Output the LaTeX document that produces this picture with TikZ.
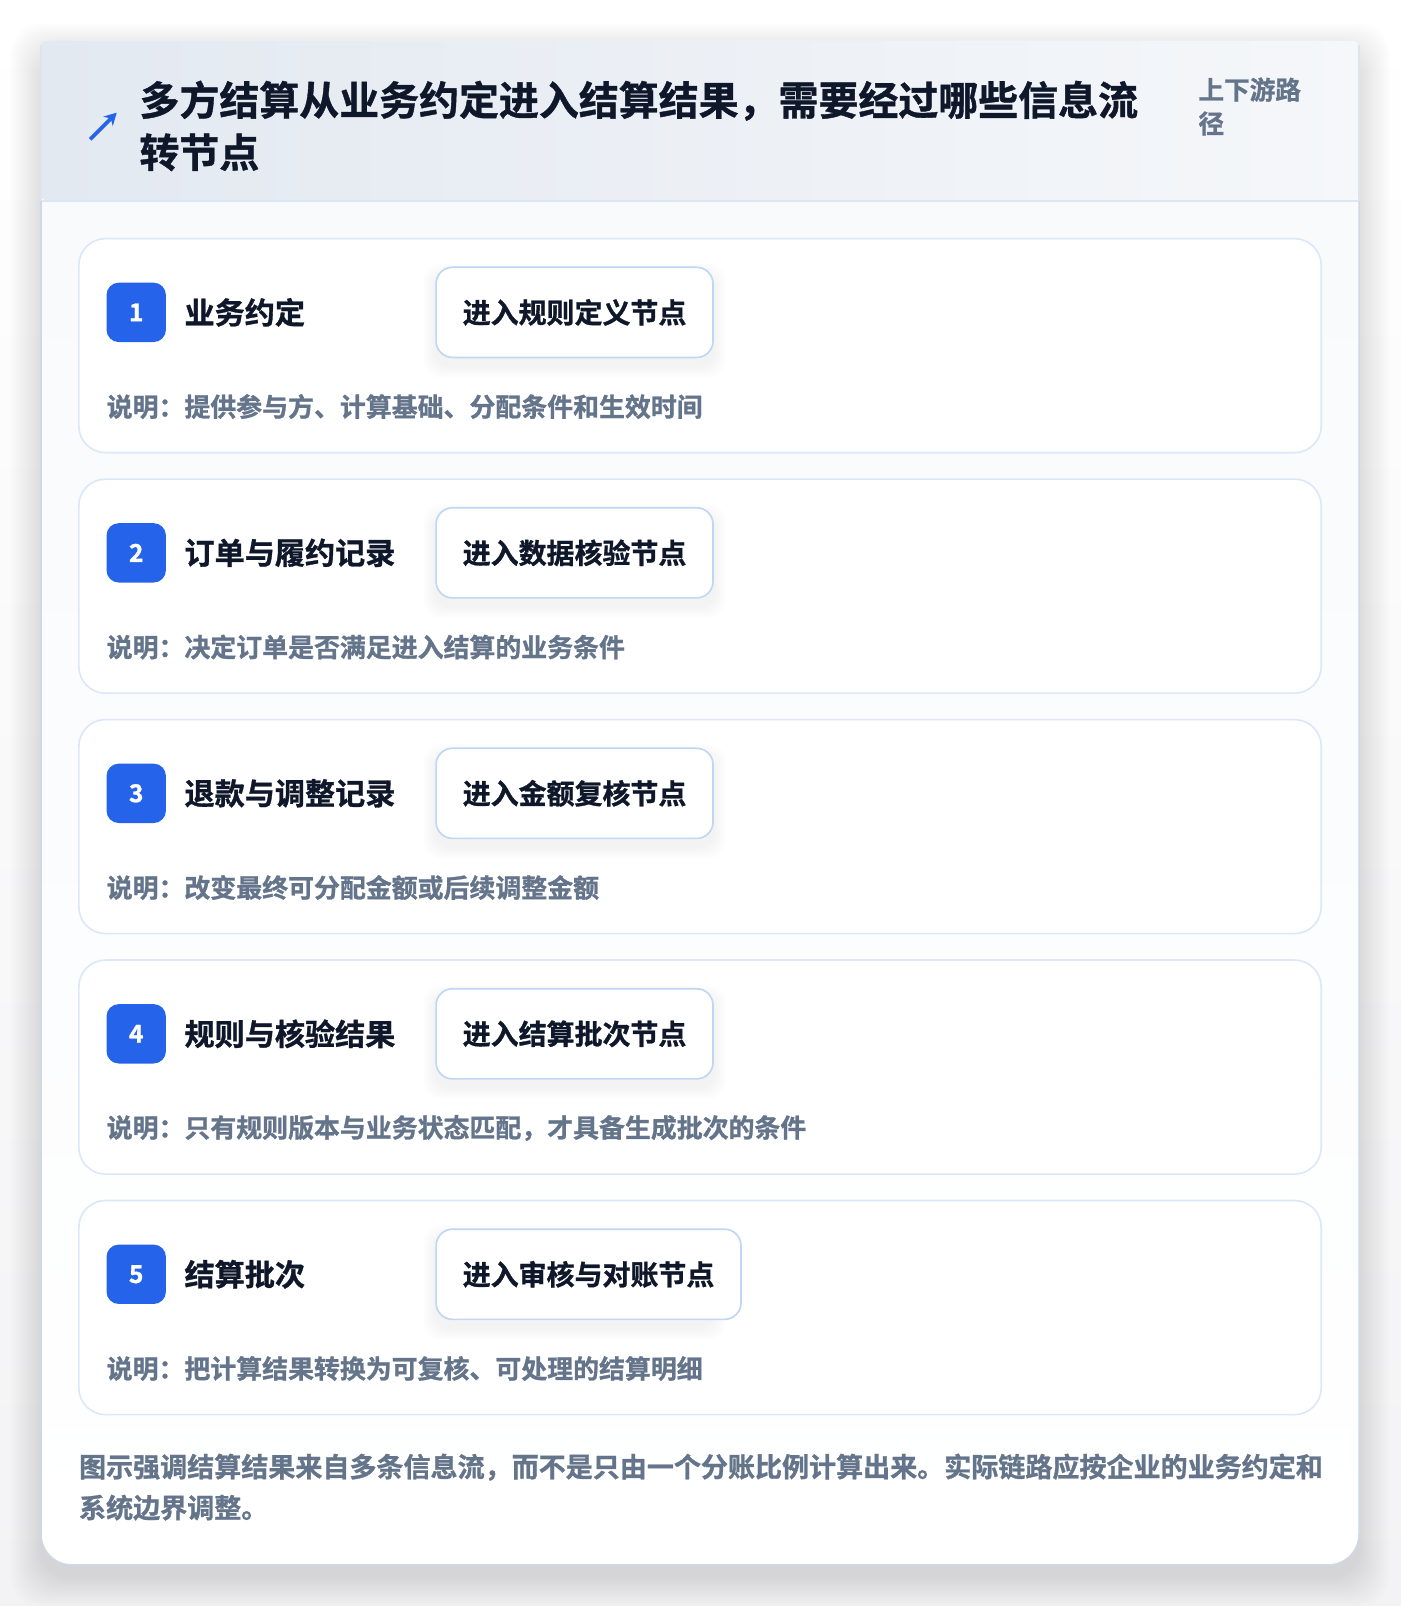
\documentclass[tikz,border=0pt]{standalone}
\usepackage{fontspec}
\setmainfont{Noto Sans CJK SC}[BoldFont={Noto Sans CJK SC Bold},BoldFeatures={FakeBold=1}]
\usetikzlibrary{arrows.meta}
\definecolor{pagebg}{HTML}{F3F3F5}
\definecolor{cardborder}{HTML}{CFD8E4}
\definecolor{headL}{HTML}{E3E9F1}
\definecolor{headR}{HTML}{F5F7FA}
\definecolor{headline}{HTML}{DCE6F2}
\definecolor{bodytop}{HTML}{F8FAFC}
\definecolor{stepborder}{HTML}{DCE8F7}
\definecolor{actborder}{HTML}{BFD6F5}
\definecolor{accent}{HTML}{2563EB}
\definecolor{ink}{HTML}{0F172A}
\definecolor{muted}{HTML}{64748B}
\tikzset{
  stepcard/.style={draw=stepborder, line width=1.6pt, fill=white, rounded corners=26pt},
  badgebox/.style={fill=accent, rounded corners=12pt, minimum width=58pt, minimum height=58pt, inner sep=0pt, text=white, font=\fontsize{24}{26}\selectfont\bfseries},
  steplabel/.style={anchor=west, inner sep=0pt, text=ink, font=\fontsize{29.4}{34}\selectfont\bfseries},
  actbox/.style={anchor=west, draw=actborder, line width=1.6pt, fill=white, rounded corners=16pt, minimum height=88pt, inner xsep=26pt, inner ysep=0pt, text=ink, font=\fontsize{27.3}{32}\selectfont\bfseries},
  desctext/.style={anchor=west, inner sep=0pt, text=muted, font=\fontsize{25.3}{30}\selectfont\bfseries},
}
\begin{document}
\begin{tikzpicture}[x=1pt,y=-1pt]
\useasboundingbox (0,0) rectangle (1367.2,1568.1);
\fill[white] (0,0) rectangle (1367.2,1568.1);
\shade[top color=white, bottom color=pagebg] (0,0) rectangle (1367.2,1568.1);
% outer shadow
\foreach \s in {1,...,30}{
  \fill[black, opacity=0.0035, rounded corners=30pt] (40-\s,40-\s+12) rectangle (1327+\s,1528+\s+12);
}
% outer card
\fill[white, rounded corners=30pt] (40,40) rectangle (1327,1528);
\begin{scope}
  \clip[rounded corners=30pt] (40,40) rectangle (1327,1528);
  \shade[top color=bodytop, bottom color=white] (40,196) rectangle (1327,1528);
\end{scope}
% header
\shade[left color=headL, right color=headR, rounded corners=6pt] (40,196) -- (40,40) -- (1327,40) -- (1327,196) -- cycle;
\draw[headline, line width=1.5pt] (40,196) -- (1327,196);
\draw[cardborder, line width=1.6pt, rounded corners=30pt] (40,196) -- (40,1528) -- (1327,1528) -- (1327,196);
\draw[cardborder!70, line width=1.2pt] (40,196) -- (40,44) (1327,196) -- (1327,44);
% header contents
\coordinate (arrowtail) at (88,136);
\coordinate (arrowhead) at (114,110);
\draw[accent, line width=3.6pt, -{Stealth[length=12pt,width=13pt]}] (arrowtail) -- (arrowhead);
\node[anchor=west, inner sep=0pt, align=left, text=ink, font=\fontsize{39}{51}\selectfont\bfseries] (title) at (136,123) {多方结算从业务约定进入结算结果，需要经过哪些信息流\\转节点};
\node[anchor=west, inner sep=0pt, align=left, text=muted, font=\fontsize{25}{33}\selectfont\bfseries] (tag) at (1170,104) {上下游路\\径};
% steps
\foreach \i/\lab/\act/\desc in {
  1/业务约定/进入规则定义节点/说明：提供参与方、计算基础、分配条件和生效时间,
  2/订单与履约记录/进入数据核验节点/说明：决定订单是否满足进入结算的业务条件,
  3/退款与调整记录/进入金额复核节点/说明：改变最终可分配金额或后续调整金额,
  4/规则与核验结果/进入结算批次节点/说明：只有规则版本与业务状态匹配，才具备生成批次的条件,
  5/结算批次/进入审核与对账节点/说明：把计算结果转换为可复核、可处理的结算明细}{
  \pgfmathsetmacro{\T}{233+234.8*(\i-1)}
  \draw[stepcard] (77,\T) rectangle (1290,\T+209);
  \node[badgebox] (badge\i) at (133,\T+72) {\i};
  \node[steplabel] (label\i) at (180,\T+72) {\lab};
  \foreach \s in {1,...,12}{
    \fill[black, opacity=0.005, rounded corners=16pt] (425-\s,\T+28-\s+8) rectangle (697+\s,\T+116+\s+8);
  }
  \node[actbox] (act\i) at (425,\T+72) {\act};
  \node[desctext] (desc\i) at (104,\T+164) {\desc};
}
% footer
\node[anchor=west, inner sep=0pt, align=left, text=muted, font=\fontsize{26.4}{40}\selectfont\bfseries] (footer) at (77,1452) {图示强调结算结果来自多条信息流，而不是只由一个分账比例计算出来。实际链路应按企业的业务约定和\\系统边界调整。};
\end{tikzpicture}
\end{document}
